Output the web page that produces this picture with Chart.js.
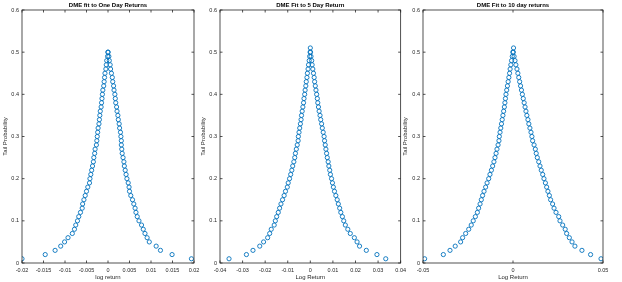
<!DOCTYPE html>
<html>
<head>
<meta charset="utf-8">
<script src="https://cdn.jsdelivr.net/npm/chart.js@4.4.1/dist/chart.umd.min.js"></script>
<style>
  body { margin: 0; background: #fff; }
  #wrap { position: relative; width: 622px; height: 282px; }
  canvas { position: absolute; top: 0; }
</style>
</head>
<body>
<div id="wrap">
  <canvas id="oneDay" style="left:0px"></canvas>
  <canvas id="fiveDay" style="left:198px"></canvas>
  <canvas id="tenDay" style="left:400px"></canvas>
</div>
<script>
// tail probability levels, 0.01 .. 0.50
const tailProb = [
  0.01, 0.02, 0.03, 0.04, 0.05, 0.06, 0.07, 0.08, 0.09, 0.10,
  0.11, 0.12, 0.13, 0.14, 0.15, 0.16, 0.17, 0.18, 0.19, 0.20,
  0.21, 0.22, 0.23, 0.24, 0.25, 0.26, 0.27, 0.28, 0.29, 0.30,
  0.31, 0.32, 0.33, 0.34, 0.35, 0.36, 0.37, 0.38, 0.39, 0.40,
  0.41, 0.42, 0.43, 0.44, 0.45, 0.46, 0.47, 0.48, 0.49, 0.50,
];

const oneDayLeft = [
  -0.0200, -0.0146, -0.0123, -0.0110, -0.0101, -0.0093, -0.0083, -0.0078, -0.0075, -0.0071,
  -0.0068, -0.0064, -0.0060, -0.0059, -0.0056, -0.0053, -0.0050, -0.0047, -0.0043, -0.0042,
  -0.0040, -0.0038, -0.0036, -0.0034, -0.0033, -0.0031, -0.0030, -0.0027, -0.0026, -0.0025,
  -0.0024, -0.0023, -0.0021, -0.0020, -0.0019, -0.0018, -0.0016, -0.0015, -0.0014, -0.0013,
  -0.0012, -0.0010, -0.0009, -0.0008, -0.0007, -0.0005, -0.0004, -0.0003, -0.0001, 0.0000,
];
const oneDayRight = [
  0.0194, 0.0149, 0.0122, 0.0112, 0.0096, 0.0091, 0.0086, 0.0082, 0.0078, 0.0072,
  0.0068, 0.0065, 0.0063, 0.0060, 0.0057, 0.0053, 0.0050, 0.0049, 0.0047, 0.0044,
  0.0042, 0.0040, 0.0038, 0.0037, 0.0035, 0.0033, 0.0032, 0.0031, 0.0031, 0.0030,
  0.0029, 0.0027, 0.0026, 0.0024, 0.0023, 0.0021, 0.0020, 0.0018, 0.0017, 0.0016,
  0.0014, 0.0013, 0.0011, 0.0010, 0.0008, 0.0006, 0.0005, 0.0003, 0.0002, 0.0000,
];

const fiveDayLeft = [
  -0.0360, -0.0283, -0.0254, -0.0224, -0.0207, -0.0189, -0.0180, -0.0173, -0.0160, -0.0155,
  -0.0149, -0.0142, -0.0136, -0.0130, -0.0123, -0.0116, -0.0110, -0.0102, -0.0098, -0.0092,
  -0.0087, -0.0082, -0.0078, -0.0073, -0.0069, -0.0066, -0.0062, -0.0058, -0.0054, -0.0053,
  -0.0050, -0.0047, -0.0044, -0.0041, -0.0039, -0.0036, -0.0033, -0.0030, -0.0028, -0.0025,
  -0.0023, -0.0020, -0.0018, -0.0015, -0.0013, -0.0010, -0.0008, -0.0005, -0.0003, -0.0001,
];
const fiveDayRight = [
  0.0334, 0.0295, 0.0248, 0.0218, 0.0207, 0.0195, 0.0177, 0.0166, 0.0155, 0.0148,
  0.0142, 0.0135, 0.0130, 0.0124, 0.0119, 0.0113, 0.0107, 0.0102, 0.0098, 0.0094,
  0.0089, 0.0086, 0.0082, 0.0079, 0.0075, 0.0072, 0.0069, 0.0066, 0.0063, 0.0061,
  0.0057, 0.0053, 0.0050, 0.0046, 0.0043, 0.0039, 0.0036, 0.0033, 0.0031, 0.0028,
  0.0025, 0.0022, 0.0019, 0.0017, 0.0014, 0.0011, 0.0008, 0.0006, 0.0003, 0.0001,
];

const tenDayLeft = [
  -0.0491, -0.0387, -0.0350, -0.0321, -0.0291, -0.0280, -0.0263, -0.0246, -0.0232, -0.0221,
  -0.0209, -0.0198, -0.0191, -0.0183, -0.0176, -0.0169, -0.0161, -0.0152, -0.0144, -0.0135,
  -0.0128, -0.0120, -0.0113, -0.0106, -0.0100, -0.0094, -0.0089, -0.0083, -0.0078, -0.0076,
  -0.0072, -0.0068, -0.0064, -0.0060, -0.0056, -0.0052, -0.0048, -0.0045, -0.0042, -0.0039,
  -0.0035, -0.0031, -0.0027, -0.0023, -0.0019, -0.0016, -0.0012, -0.0008, -0.0004, -0.0001,
];
const tenDayRight = [
  0.0489, 0.0431, 0.0383, 0.0344, 0.0328, 0.0313, 0.0298, 0.0290, 0.0276, 0.0261,
  0.0254, 0.0239, 0.0228, 0.0220, 0.0209, 0.0202, 0.0194, 0.0187, 0.0180, 0.0172,
  0.0165, 0.0157, 0.0150, 0.0143, 0.0135, 0.0129, 0.0124, 0.0117, 0.0109, 0.0105,
  0.0100, 0.0094, 0.0088, 0.0083, 0.0077, 0.0072, 0.0067, 0.0062, 0.0057, 0.0052,
  0.0047, 0.0042, 0.0037, 0.0032, 0.0027, 0.0022, 0.0016, 0.0011, 0.0006, 0.0002,
];

// single top point above the two tails (5 and 10 day)
const fiveDayPeak = [{ x: 0.0000, y: 0.51 }];
const tenDayPeak = [{ x: 0.0003, y: 0.51 }];

const blue = "#0072BD";
const axisColor = "#262626";
const fontFamily = "'Liberation Sans', Arial, sans-serif";

// matlab style box with inward ticks
const boxTicks = {
  id: "boxTicks",
  afterDraw(chart) {
    const { ctx, chartArea: a, scales } = chart;
    const len = 2.5;
    ctx.save();
    ctx.strokeStyle = axisColor;
    ctx.lineWidth = 0.8;
    ctx.strokeRect(a.left, a.top, a.right - a.left, a.bottom - a.top);
    ctx.beginPath();
    scales.x.ticks.forEach((t) => {
      const px = scales.x.getPixelForValue(t.value);
      ctx.moveTo(px, a.bottom);
      ctx.lineTo(px, a.bottom - len);
      ctx.moveTo(px, a.top);
      ctx.lineTo(px, a.top + len);
    });
    scales.y.ticks.forEach((t) => {
      const py = scales.y.getPixelForValue(t.value);
      ctx.moveTo(a.left, py);
      ctx.lineTo(a.left + len, py);
      ctx.moveTo(a.right, py);
      ctx.lineTo(a.right - len, py);
    });
    ctx.stroke();
    ctx.restore();
  },
};

const tickText = (v) => String(Number(v.toFixed(4)));

function points(xs) {
  return tailProb.map((p, i) => ({ x: xs[i], y: p }));
}

function dmeChart(id, width, yWidth, padRight, title, xTitle, xMin, xMax, xStep, sets) {
  const canvas = document.getElementById(id);
  canvas.width = width;
  canvas.height = 282;
  canvas.style.width = width + "px";
  canvas.style.height = "282px";
  return new Chart(canvas, {
    type: "scatter",
    data: {
      datasets: sets.map((d) => ({
        data: d,
        pointStyle: "circle",
        pointRadius: 2.1,
        pointBorderWidth: 0.9,
        pointBorderColor: blue,
        pointBackgroundColor: "rgba(0,0,0,0)",
      })),
    },
    options: {
      responsive: false,
      animation: false,
      layout: { padding: { left: 0, right: padRight, top: 0, bottom: 0 } },
      scales: {
        x: {
          type: "linear",
          min: xMin,
          max: xMax,
          afterFit: (s) => { s.height = 19; },
          grid: { display: false, drawTicks: false },
          border: { display: false },
          ticks: {
            stepSize: xStep,
            autoSkip: false,
            maxRotation: 0,
            padding: 4,
            color: axisColor,
            font: { family: fontFamily, size: 5.5 },
            callback: tickText,
          },
          title: {
            display: true,
            text: xTitle,
            color: axisColor,
            padding: { top: 0, bottom: 1 },
            font: { family: fontFamily, size: 6 },
          },
        },
        y: {
          min: 0,
          max: 0.6,
          afterFit: (s) => { s.width = yWidth; },
          grid: { display: false, drawTicks: false },
          border: { display: false },
          ticks: {
            stepSize: 0.1,
            padding: 3,
            color: axisColor,
            font: { family: fontFamily, size: 5.5 },
            callback: tickText,
          },
          title: {
            display: true,
            text: "Tail Probability",
            color: axisColor,
            padding: { top: 2, bottom: 0 },
            font: { family: fontFamily, size: 6 },
          },
        },
      },
      plugins: {
        legend: { display: false },
        tooltip: { enabled: false },
        title: {
          display: true,
          text: title,
          fullSize: false,
          color: "#000",
          padding: { top: 2, bottom: 0.8 },
          font: { family: fontFamily, size: 6, weight: "bold" },
        },
      },
    },
    plugins: [boxTicks],
  });
}

dmeChart("oneDay", 206, 22, 12, "DME fit to One Day Returns", "log return",
  -0.02, 0.02, 0.005, [points(oneDayLeft), points(oneDayRight)]);

dmeChart("fiveDay", 212, 22, 8, "DME Fit to 5 Day Return", "Log Return",
  -0.04, 0.04, 0.01, [points(fiveDayLeft), points(fiveDayRight), fiveDayPeak]);

dmeChart("tenDay", 222, 23, 19, "DME Fit to 10 day returns", "Log Return",
  -0.05, 0.05, 0.05, [points(tenDayLeft), points(tenDayRight), tenDayPeak]);
</script>
</body>
</html>
